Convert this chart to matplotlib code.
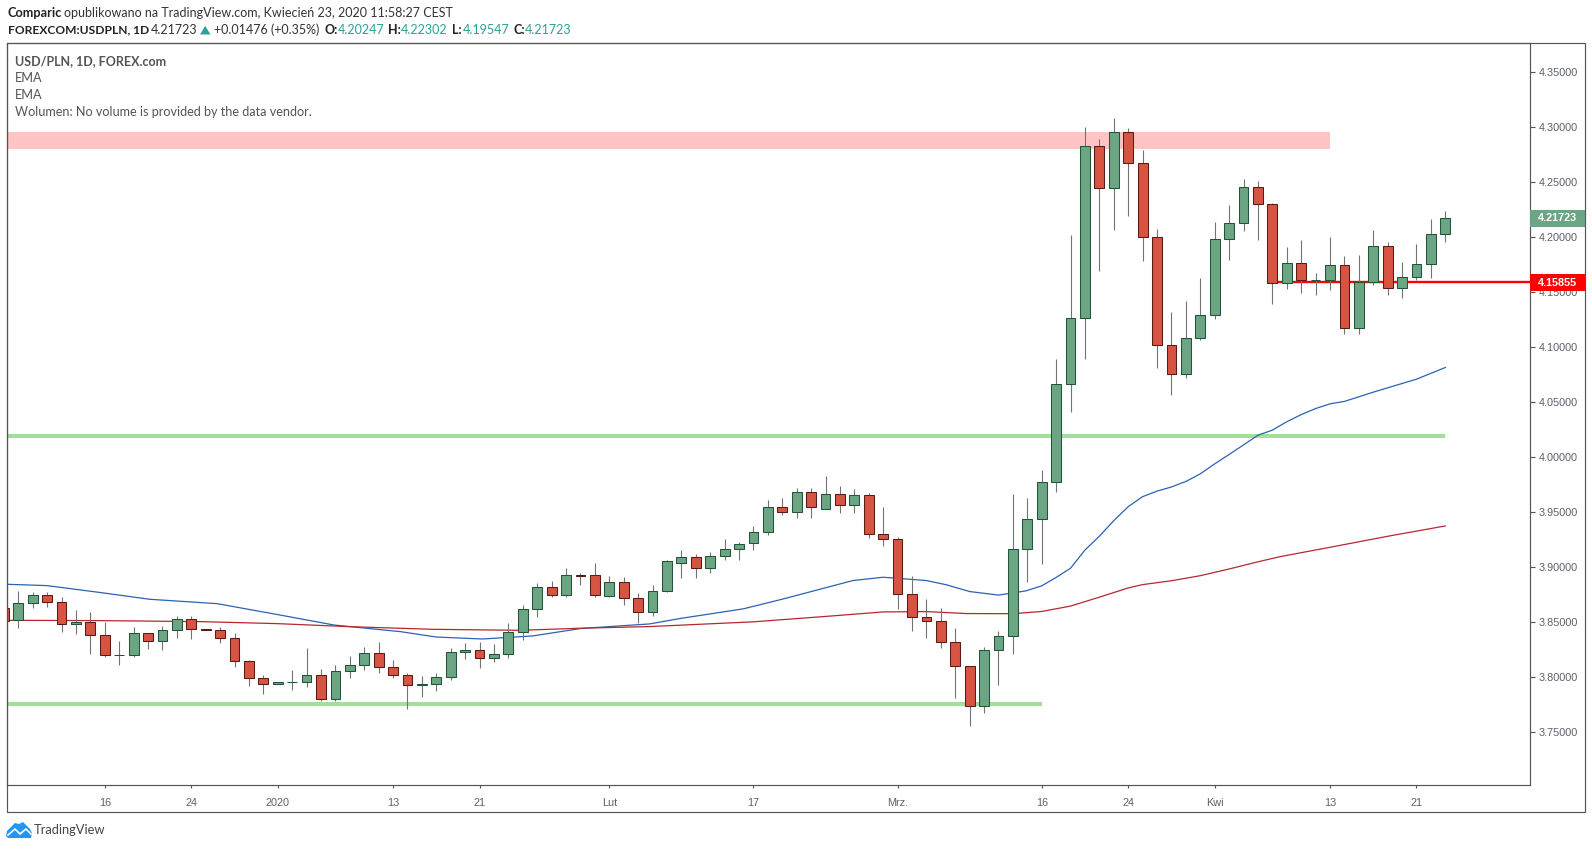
# USD/PLN daily candles, TradingView style
import matplotlib
matplotlib.use('Agg')
import matplotlib.pyplot as plt
from matplotlib.patches import Polygon, Rectangle
from matplotlib.lines import Line2D

W, H = 1592, 849

opens = [3.8626, 3.8517, 3.8671, 3.8744, 3.8680, 3.8480, 3.8499, 3.8381, 3.8199, 3.8199,
         3.8399, 3.8326, 3.8426, 3.8526, 3.8435, 3.8426, 3.8353, 3.8144, 3.7990, 3.7935,
         3.7954, 3.7954, 3.8017, 3.7799, 3.8053, 3.8108, 3.8217, 3.8090, 3.8017, 3.7926,
         3.7935, 3.7999, 3.8226, 3.8244, 3.8172, 3.8209, 3.8409, 3.8618, 3.8817, 3.8745,
         3.8926, 3.8926, 3.8736, 3.8863, 3.8717, 3.8590, 3.8781, 3.9035, 3.9090, 3.8990,
         3.9099, 3.9163, 3.9217, 3.9317, 3.9544, 3.9499, 3.9681, 3.9526, 3.9662, 3.9562,
         3.9653, 3.9299, 3.9254, 3.8754, 3.8545, 3.8509, 3.8318, 3.8100, 3.7736, 3.8245,
         3.8372, 3.9163, 3.9438, 3.9770, 4.0661, 4.1261, 4.2825, 4.2442, 4.2951, 4.2668,
         4.1999, 4.1016, 4.0753, 4.1081, 4.1288, 4.1980, 4.2125, 4.2450, 4.2297, 4.1579,
         4.1761, 4.1607, 4.1607, 4.1743, 4.1171, 4.1589, 4.1916, 4.1534, 4.1634, 4.1752,
         4.20247]
highs = [3.8626, 3.8783, 3.8771, 3.8774, 3.8729, 3.8611, 3.8593, 3.8502, 3.8329, 3.8456,
         3.8399, 3.8465, 3.8556, 3.8556, 3.8435, 3.8456, 3.8402, 3.8156, 3.8020, 3.7954,
         3.8066, 3.8262, 3.8075, 3.8108, 3.8190, 3.8272, 3.8320, 3.8156, 3.8035, 3.8011,
         3.8038, 3.8262, 3.8311, 3.8320, 3.8302, 3.8493, 3.8657, 3.8854, 3.8875, 3.8993,
         3.8945, 3.9038, 3.8920, 3.8911, 3.8763, 3.8839, 3.9066, 3.9157, 3.9120, 3.9138,
         3.9257, 3.9229, 3.9375, 3.9611, 3.9629, 3.9720, 3.9720, 3.9829, 3.9738, 3.9711,
         3.9674, 3.9547, 3.9275, 3.8920, 3.8711, 3.8630, 3.8448, 3.8100, 3.8275, 3.8421,
         3.9665, 3.9629, 3.9885, 4.0894, 4.2018, 4.3000, 4.2889, 4.3081, 4.2989, 4.2790,
         4.2075, 4.1318, 4.1418, 4.1628, 4.2136, 4.2293, 4.2526, 4.2511, 4.2306, 4.1910,
         4.1973, 4.1673, 4.2000, 4.1828, 4.1837, 4.2064, 4.1955, 4.1773, 4.1937, 4.2164,
         4.22302]
lows = [3.8514, 3.8450, 3.8632, 3.8641, 3.8414, 3.8396, 3.8214, 3.8181, 3.8114, 3.8187,
        3.8259, 3.8250, 3.8356, 3.8350, 3.8426, 3.8314, 3.8096, 3.7923, 3.7851, 3.7935,
        3.7887, 3.7914, 3.7787, 3.7787, 3.7996, 3.8069, 3.8041, 3.7996, 3.7714, 3.7823,
        3.7878, 3.7978, 3.8169, 3.8087, 3.8141, 3.8178, 3.8342, 3.8551, 3.8733, 3.8733,
        3.8833, 3.8733, 3.8724, 3.8660, 3.8493, 3.8560, 3.8772, 3.8905, 3.8905, 3.8942,
        3.9069, 3.9069, 3.9151, 3.9296, 3.9469, 3.9450, 3.9450, 3.9526, 3.9487, 3.9496,
        3.9260, 3.9196, 3.8624, 3.8424, 3.8360, 3.8269, 3.7815, 3.7561, 3.7679, 3.7933,
        3.8215, 3.8864, 3.9025, 3.9679, 4.0405, 4.0886, 4.1685, 4.2060, 4.2186, 4.1777,
        4.0806, 4.0562, 4.0714, 4.1066, 4.1250, 4.1789, 4.2049, 4.1968, 4.1386, 4.1522,
        4.1486, 4.1476, 4.1513, 4.1113, 4.1113, 4.1558, 4.1476, 4.1440, 4.1604, 4.1622,
        4.19547]
closes = [3.8514, 3.8671, 3.8744, 3.8680, 3.8480, 3.8499, 3.8381, 3.8199, 3.8199, 3.8399,
          3.8326, 3.8426, 3.8526, 3.8435, 3.8426, 3.8353, 3.8144, 3.7990, 3.7935, 3.7954,
          3.7954, 3.8017, 3.7799, 3.8053, 3.8108, 3.8217, 3.8090, 3.8017, 3.7926, 3.7935,
          3.7999, 3.8226, 3.8244, 3.8172, 3.8208, 3.8409, 3.8618, 3.8817, 3.8745, 3.8926,
          3.8923, 3.8745, 3.8863, 3.8717, 3.8590, 3.8781, 3.9054, 3.9090, 3.8990, 3.9099,
          3.9163, 3.9208, 3.9317, 3.9544, 3.9499, 3.9681, 3.9544, 3.9662, 3.9562, 3.9653,
          3.9299, 3.9254, 3.8754, 3.8545, 3.8509, 3.8318, 3.8100, 3.7736, 3.8245, 3.8372,
          3.9163, 3.9438, 3.9770, 4.0661, 4.1261, 4.2825, 4.2442, 4.2951, 4.2668, 4.1999,
          4.1016, 4.0753, 4.1081, 4.1288, 4.1980, 4.2125, 4.2450, 4.2297, 4.1579, 4.1761,
          4.1607, 4.1607, 4.1743, 4.1171, 4.1589, 4.1916, 4.1534, 4.1634, 4.1752, 4.2025,
          4.21723]

# the two EMA lines, read at some candle positions
blue_pos = [0.2, 3, 7.1, 10.1, 14.8, 18.9, 22.9, 27.5, 30, 33.2, 36.7, 40, 44.8, 46.9, 51.3, 54.1,
            58.9, 61, 64, 65.4, 67, 69, 70.9, 72, 73, 74, 75, 76, 77, 78, 79, 80, 81, 82, 83, 84,
            85, 86, 87, 88, 89, 90, 91, 92, 93, 95, 98, 100]
blue_val = [3.8844, 3.8832, 3.8762, 3.8708, 3.8668, 3.8571, 3.8474, 3.8414, 3.8365, 3.8347, 3.8375,
            3.8442, 3.8484, 3.8533, 3.8621, 3.8712, 3.8878, 3.8908, 3.8878, 3.8839, 3.8778, 3.8746,
            3.8784, 3.8830, 3.8906, 3.8990, 3.9155, 3.9281, 3.9422, 3.9549, 3.9640, 3.9690, 3.9728,
            3.9778, 3.9847, 3.9938, 4.0023, 4.0110, 4.0198, 4.0244, 4.0320, 4.0385, 4.0440, 4.0483,
            4.0505, 4.0589, 4.0707, 4.0813]
red_pos = [0.2, 6.7, 13.6, 18.9, 24, 29.8, 35.8, 40, 44.8, 52, 57.5, 61, 64, 66.8, 70, 72, 74, 76, 78,
           79, 81, 83, 85, 87, 88.5, 92, 96, 100]
red_val = [3.8517, 3.8514, 3.8505, 3.8487, 3.8459, 3.8435, 3.8426, 3.8445, 3.8460, 3.8503, 3.8557,
           3.8593, 3.8596, 3.8578, 3.8577, 3.8597, 3.8646, 3.8727, 3.8811, 3.8841, 3.8876, 3.8922,
           3.8983, 3.9048, 3.9094, 3.9180, 3.9280, 3.9374]

# drawn levels
band_low, band_high = 4.2802, 4.2954
band_end = 92
green_upper, green_upper_end = 4.0195, 100
green_lower, green_lower_end = 3.7760, 72
last_price = 4.21723
red_level = 4.15855

y_ticks = [3.75, 3.80, 3.85, 3.90, 3.95, 4.00, 4.05, 4.10, 4.15, 4.20, 4.25, 4.30, 4.35]
x_ticks = [7, 13, 19, 27, 33, 42, 52, 62, 72, 78, 84, 92, 98]
x_labels = ['16', '24', '2020', '13', '21', 'Lut', '17', 'Mrz.', '16', '24', 'Kwi', '13', '21']

UP, UP_EDGE = '#6ba583', '#225437'
DOWN, DOWN_EDGE = '#d75442', '#5b1a13'
WICK = '#737375'
FRAME = '#555555'
GREY = '#5d606b'
TEAL = '#2aa198'
LINE_GREEN = '#a0e09a'


def px(x, y):
    return x / W, 1 - y / H


fig = plt.figure(figsize=(W / 100, H / 100), dpi=100)
ax = fig.add_axes([6.5 / W, 1 - 785 / H, 1523 / W, 742.3 / H])
ax.set_xlim(0.181, 105.84)
ax.set_ylim(3.7021, 4.3763)

ax.add_patch(Rectangle((0, band_low), band_end, band_high - band_low, color='#ffc4c4', lw=0, zorder=1))
ax.plot([0, green_upper_end], [green_upper] * 2, color=LINE_GREEN, lw=2.9, solid_capstyle='butt', zorder=1)
ax.plot([0, green_lower_end], [green_lower] * 2, color=LINE_GREEN, lw=2.9, solid_capstyle='butt', zorder=1)
ax.plot(blue_pos, blue_val, color='#2c62b4', lw=0.9, zorder=2)
ax.plot(red_pos, red_val, color='#b5282f', lw=0.9, zorder=2)
ax.plot([88, 106], [red_level] * 2, color='#ff0000', lw=1.7, solid_capstyle='butt', zorder=2)

for i in range(len(opens)):
    up = closes[i] >= opens[i]
    ax.plot([i, i], [lows[i], highs[i]], color=WICK, lw=0.8, solid_capstyle='butt', zorder=3)
    ax.bar(i, closes[i] - opens[i], bottom=opens[i], width=0.68, color=UP if up else DOWN,
           edgecolor=UP_EDGE if up else DOWN_EDGE, linewidth=0.75, zorder=4)

ax.set_yticks(y_ticks)
ax.set_yticklabels(['%.5f' % v for v in y_ticks])
ax.set_xticks(x_ticks)
ax.set_xticklabels(x_labels)
ax.yaxis.tick_right()
ax.tick_params(axis='y', length=3.5, width=0.8, color=FRAME, labelcolor=GREY, labelsize=7.8, pad=3)
ax.tick_params(axis='x', length=2.5, width=0.8, color=FRAME, labelcolor=GREY, labelsize=7.8, pad=7)
for lab in ax.get_xticklabels() + ax.get_yticklabels():
    lab.set_family('Liberation Sans')
for s in ax.spines.values():
    s.set_color(FRAME)
    s.set_linewidth(0.85)

# outer frame around the price and time scales
fx, fy = px(6.5, 812)
fig.add_artist(Rectangle((fx, fy), (1585 - 6.5) / W, (812 - 42.7) / H, fill=False, ec=FRAME, lw=0.85,
                         transform=fig.transFigure))

# price labels on the scale
for val, col in [(last_price, UP), (red_level, '#ff0000')]:
    ypix = 182 + (4.25 - val) * 1100.6
    x0, y0 = px(1530, ypix + 8.5)
    fig.add_artist(Rectangle((x0, y0), 55 / W, 17 / H, color=col, lw=0, transform=fig.transFigure, zorder=5))
    tx, ty = px(1538.3, ypix)
    fig.text(tx, ty, '%.5f' % val, color='white', fontsize=7.8, fontweight='bold', va='center',
             family='Liberation Sans', zorder=6)


def put(x, y, s, color='#333333', weight='normal', size=9.0):
    tx, ty = px(x, y)
    fig.text(tx, ty, s, color=color, fontweight=weight, fontsize=size, va='center', family='Lato')


# header
put(7.6, 13.3, 'Comparic', '#222222', 'bold', 9.2)
put(64.3, 13.3, 'opublikowano na TradingView.com, Kwiecień 23, 2020 11:58:27 CEST')
put(7.6, 30, 'FOREXCOM:USDPLN, 1D', '#222222', 'bold', 8.65)
put(150.8, 30, '4.21723')
fig.add_artist(Polygon([px(200, 34.5), px(210.5, 34.5), px(205.2, 26)], color=TEAL, lw=0, transform=fig.transFigure))
put(214.3, 30, '+0.01476 (+0.35%)')
put(324.5, 30, 'O:', '#222222', 'bold')
put(337.5, 30, '4.20247', TEAL)
put(388.4, 30, 'H:', '#222222', 'bold')
put(401, 30, '4.22302', TEAL)
put(452.4, 30, 'L:', '#222222', 'bold')
put(463, 30, '4.19547', TEAL)
put(513.6, 30, 'C:', '#222222', 'bold')
put(525, 30, '4.21723', TEAL)

# legend in the pane
put(15.3, 60.7, 'USD/PLN, 1D, FOREX.com', '#555555', 'bold')
put(15.3, 78, 'EMA', '#555555', size=9.1)
put(15.3, 95, 'EMA', '#555555', size=9.1)
put(15.3, 111.7, 'Wolumen: No volume is provided by the data vendor.', '#555555', size=9.1)

# TradingView logo
cloud = [(6, 836), (7, 831), (12, 826), (15, 823), (19, 824), (23, 822), (27, 826), (30, 829), (32, 833), (31, 838), (8, 838)]
fig.add_artist(Polygon([px(*p) for p in cloud], color='#2196f3', lw=0, transform=fig.transFigure))
fig.add_artist(Line2D(*zip(*[px(8, 835), px(15, 829), px(20, 834), px(26, 829), px(31, 834)]), color='white', lw=1.2,
                      transform=fig.transFigure))
put(34, 830, 'TradingView', '#444444', size=9.3)

fig.savefig('out.png', dpi=100, facecolor='white')
